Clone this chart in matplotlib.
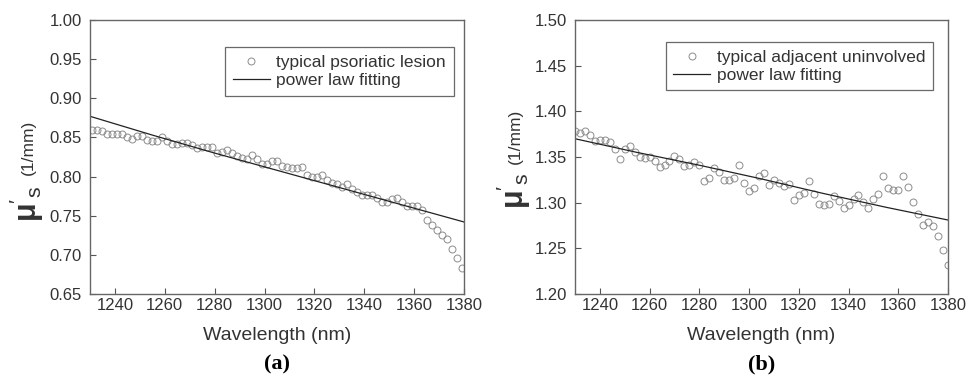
import numpy as np
import matplotlib
matplotlib.use("Agg")
import matplotlib.pyplot as plt

plt.rcParams['font.family'] = ['Liberation Sans', 'DejaVu Sans']
plt.rcParams['mathtext.fontset'] = 'custom'
plt.rcParams['mathtext.rm'] = 'Liberation Sans'
plt.rcParams['mathtext.bf'] = 'Liberation Sans:bold'
plt.rcParams['mathtext.it'] = 'Liberation Sans:italic'

# wavelength grids (nm), 2 nm sampling
wl_a = list(range(1231, 1380, 2))
wl_b = list(range(1230, 1381, 2))

# (a) typical psoriatic lesion, reduced scattering coefficient (1/mm)
mus_a = [0.860, 0.860, 0.858, 0.854, 0.854, 0.855, 0.854, 0.851, 0.848, 0.852,
         0.852, 0.847, 0.846, 0.846, 0.850, 0.846, 0.842, 0.842, 0.843, 0.843,
         0.840, 0.837, 0.838, 0.838, 0.838, 0.830, 0.831, 0.834, 0.830, 0.826,
         0.824, 0.822, 0.828, 0.822, 0.816, 0.816, 0.820, 0.820, 0.814, 0.812,
         0.811, 0.811, 0.812, 0.802, 0.799, 0.799, 0.802, 0.796, 0.792, 0.791,
         0.787, 0.790, 0.784, 0.780, 0.776, 0.776, 0.776, 0.773, 0.768, 0.768,
         0.771, 0.772, 0.768, 0.762, 0.762, 0.762, 0.757, 0.745, 0.738, 0.732,
         0.725, 0.720, 0.708, 0.696, 0.683]

# (b) typical adjacent uninvolved skin
mus_b = [1.379, 1.376, 1.378, 1.374, 1.367, 1.369, 1.369, 1.366, 1.359, 1.348,
         1.359, 1.362, 1.355, 1.350, 1.349, 1.350, 1.346, 1.339, 1.341, 1.346,
         1.351, 1.348, 1.340, 1.341, 1.344, 1.341, 1.324, 1.327, 1.338, 1.334,
         1.325, 1.325, 1.327, 1.341, 1.322, 1.313, 1.316, 1.329, 1.333, 1.319,
         1.325, 1.322, 1.318, 1.320, 1.303, 1.308, 1.311, 1.324, 1.310, 1.299,
         1.297, 1.299, 1.307, 1.302, 1.294, 1.297, 1.304, 1.308, 1.301, 1.294,
         1.304, 1.309, 1.329, 1.316, 1.314, 1.314, 1.329, 1.317, 1.301, 1.288,
         1.276, 1.279, 1.275, 1.264, 1.248, 1.232]

# power law fitting curves, read at a few wavelengths
fit_wl = [1230, 1255, 1280, 1305, 1330, 1355, 1380]
fit_a = [0.877, 0.853, 0.830, 0.808, 0.786, 0.764, 0.742]
fit_b = [1.370, 1.355, 1.341, 1.326, 1.310, 1.295, 1.281]

xticks = [1240, 1260, 1280, 1300, 1320, 1340, 1360, 1380]
yticks_a = [0.65, 0.70, 0.75, 0.80, 0.85, 0.90, 0.95, 1.00]
yticks_b = [1.20, 1.25, 1.30, 1.35, 1.40, 1.45, 1.50]

labels_a = ["typical psoriatic lesion", "power law fitting"]
labels_b = ["typical adjacent uninvolved", "power law fitting"]


def drawPanel(ax, wl, mus, fit, yticks, labels, legend_anchor, tag, ylab_x, ylab_y):
    """"""
    ax.plot(wl, mus, linestyle='none', marker='o', markersize=5,
            markerfacecolor='none', markeredgecolor='#8c8c8c', markeredgewidth=0.7,
            label=labels[0])
    ax.plot(fit_wl, fit, linestyle='-', color='#222222', linewidth=0.9, label=labels[1])

    ax.set_xlim(1230, 1380)
    ax.set_ylim(yticks[0], yticks[-1])
    ax.set_xticks(xticks)
    ax.set_yticks(yticks)
    ax.set_yticklabels([f"{v:.2f}" for v in yticks])

    ax.tick_params(direction='in', length=4, width=0.8, color='#555555',
                   labelsize=12, labelcolor='#333333')
    ax.tick_params(axis='y', pad=6)
    ax.tick_params(axis='x', pad=3)
    for sp in ax.spines.values():
        sp.set_color('#666666')
        sp.set_linewidth(1.0)

    ax.set_xlabel('Wavelength (nm)', fontsize=14, color='#333333', labelpad=10)

    ax.text(ylab_x, ylab_y[0], r"$\mathbf{\mu}'_{\mathrm{s}}$", rotation=90, fontsize=22,
            color='#333333', ha='center', va='center', transform=ax.transAxes)
    ax.text(ylab_x + 0.005, ylab_y[1], "(1/mm)", rotation=90, fontsize=12.5,
            color='#333333', ha='center', va='center', transform=ax.transAxes)

    leg = ax.legend(loc='upper right', bbox_to_anchor=legend_anchor, borderaxespad=0,
                    fontsize=12.5, frameon=True, fancybox=False, handlelength=2.1,
                    handletextpad=0.4, labelspacing=0.15, borderpad=0.45)
    leg.get_frame().set_edgecolor('#444444')
    leg.get_frame().set_linewidth(0.9)
    for t in leg.get_texts():
        t.set_color('#333333')

    ax.text(0.5, -0.258, tag, transform=ax.transAxes, ha='center', va='center',
            fontsize=16, fontweight='bold', family='Liberation Serif')


fig = plt.figure(figsize=(9.72, 3.82), dpi=100)
ax_a = fig.add_axes([90 / 972, 88 / 382, 374 / 972, 274 / 382])
ax_b = fig.add_axes([575 / 972, 88 / 382, 373 / 972, 274 / 382])

drawPanel(ax_a, wl_a, mus_a, fit_a, yticks_a, labels_a, (0.973, 0.901), '(a)', -0.17, (0.33, 0.535))
drawPanel(ax_b, wl_b, mus_b, fit_b, yticks_b, labels_b, (0.960, 0.920), '(b)', -0.164, (0.375, 0.575))

plt.savefig('out.png', dpi=100)
plt.close()
